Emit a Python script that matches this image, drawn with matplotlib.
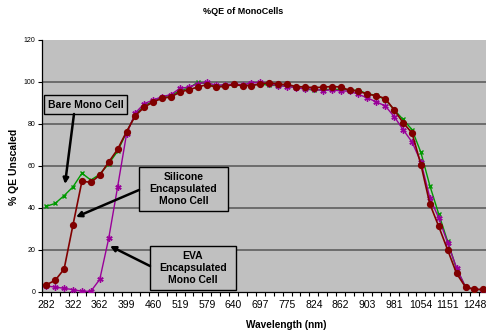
import matplotlib
matplotlib.use("Agg")
import matplotlib.pyplot as plt
from matplotlib.patches import Rectangle

plt.rcParams['font.family'] = ['Liberation Sans', 'DejaVu Sans']

tick_labels = ["282", "322", "362", "399", "460", "519", "579", "640", "697",
               "775", "824", "862", "903", "981", "1054", "1151", "1248"]
label_step = 3

bare_mono = [40.7, 42.1, 45.8, 50.0, 56.5, 53.2, 56.0, 61.0, 67.0, 76.0,
             84.5, 88.8, 90.8, 93.0, 93.5, 96.0, 97.0, 100.0, 99.0, 98.0,
             98.5, 98.5, 98.3, 98.5, 99.0, 98.4, 98.3, 98.0, 97.2, 96.8,
             96.0, 96.3, 96.5, 96.4, 96.2, 96.0, 94.4, 93.6, 91.6, 86.8,
             82.1, 77.3, 66.4, 50.6, 37.0, 24.0, 10.8, 2.4, 1.0, 1.0]

silicone = [3.3, 5.4, 10.8, 31.9, 52.7, 52.1, 55.6, 61.8, 67.9, 76.3,
            84.0, 88.0, 90.5, 92.2, 92.9, 95.2, 96.3, 97.6, 98.7, 97.5,
            97.9, 98.8, 98.2, 98.3, 99.0, 99.7, 98.9, 98.8, 97.8, 97.6,
            97.3, 97.5, 97.8, 97.6, 96.0, 95.7, 94.1, 93.5, 92.1, 86.7,
            80.6, 75.7, 60.6, 41.9, 31.1, 19.9, 8.7, 2.2, 1.1, 1.1]

eva = [2.7, 2.2, 1.6, 1.0, 0.2, 0.2, 5.9, 25.4, 50.0, 75.2,
       85.3, 89.7, 91.4, 93.0, 94.0, 97.0, 97.5, 99.2, 99.8, 98.4,
       98.7, 99.0, 98.7, 99.5, 99.8, 99.0, 98.3, 97.8, 97.3, 96.6,
       96.7, 95.8, 96.3, 95.7, 95.6, 94.1, 92.4, 90.5, 88.6, 83.5,
       77.3, 71.4, 61.9, 44.8, 35.1, 23.3, 11.3, 2.2, 1.1, 1.0]

W, H = 486, 333
fig = plt.figure(figsize=(W / 100, H / 100), dpi=100)
ax = fig.add_axes([41.8 / W, (H - 291.7) / H, 446 / W, (291.7 - 40) / H])
ax.set_facecolor('#C0C0C0')

n = len(silicone)
x = list(range(n))

ax.plot(x, bare_mono, color='#009900', lw=1.0, marker='x', ms=3.5, mew=1.0, zorder=3)
ax.plot(x, eva, color='#990099', lw=1.0, marker=(6, 2, 0), ms=4.5, mew=1.0, zorder=4)
ax.plot(x, silicone, color='#800000', lw=1.2, marker='o', ms=4.2, zorder=5)

ax.set_xlim(-0.5, n - 0.5)
ax.set_ylim(0, 120)
ax.set_yticks(range(0, 121, 20))
ax.set_yticklabels([str(v) for v in range(0, 121, 20)], fontsize=5)
ax.set_xticks(range(0, label_step * len(tick_labels), label_step))
ax.set_xticklabels(tick_labels, fontsize=7.5)
ax.set_xticks([i - 0.5 for i in range(n + 1)], minor=True)
ax.tick_params(axis='x', which='major', length=0, pad=6)
ax.tick_params(axis='x', which='minor', length=3, width=0.8, direction='out')
ax.tick_params(axis='y', which='major', length=3, width=0.8, pad=1.5)

ax.yaxis.grid(True, color='#666666', lw=1.3)
ax.set_axisbelow(True)
gl = ax.get_ygridlines()
gl[0].set_visible(False)
gl[-1].set_visible(False)

for s in ['top', 'right']:
    ax.spines[s].set_visible(False)
for s in ['left', 'bottom']:
    ax.spines[s].set_color('black')
    ax.spines[s].set_linewidth(0.9)

fig.text(243 / W, 1 - 12 / H, "%QE of MonoCells", ha='center', va='center',
         fontsize=6.5, fontweight='bold')
fig.text(286 / W, 1 - 325 / H, "Wavelength (nm)", ha='center', va='center',
         fontsize=7.2, fontweight='bold')
fig.text(14 / W, 1 - 167 / H, "% QE Unscaled", ha='center', va='center',
         fontsize=7.5, fontweight='bold', rotation=90)


def fp(px, py):
    return (px / W, 1 - py / H)


def box(x0, y0, x1, y1, txt):
    r = Rectangle(fp(x0, y1), (x1 - x0) / W, (y1 - y0) / H, transform=fig.transFigure,
                  facecolor='#C0C0C0', edgecolor='black', lw=1.0, zorder=10)
    fig.add_artist(r)
    fig.text((x0 + x1) / 2 / W, 1 - (y0 + y1) / 2 / H, txt, ha='center', va='center',
             fontsize=7.5, fontweight='bold', linespacing=1.25, zorder=11)


def arrow(xs, ys, xt, yt):
    fig.add_artist(matplotlib.patches.FancyArrowPatch(
        fp(xs, ys), fp(xt, yt), transform=fig.transFigure,
        arrowstyle='-|>', mutation_scale=8, lw=1.8, color='black', zorder=12,
        shrinkA=0, shrinkB=0))


box(44, 95, 127, 114, "Bare Mono Cell")
box(139, 167, 228, 211, "Silicone\nEncapsulated\nMono Cell")
box(150, 246, 236, 290, "EVA\nEncapsulated\nMono Cell")

arrow(74, 114, 65, 184)
arrow(139, 190, 76, 217)
arrow(150, 266, 110, 246)

fig.savefig("out.png", dpi=100)
